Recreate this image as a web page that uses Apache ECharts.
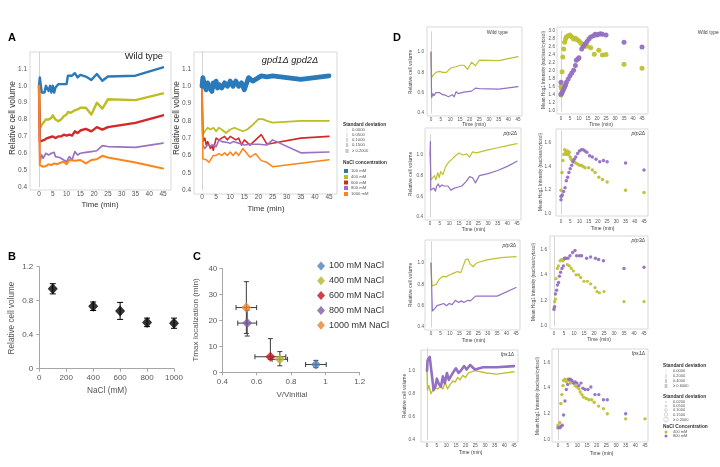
<!DOCTYPE html>
<html><head><meta charset="utf-8">
<script src="https://cdn.jsdelivr.net/npm/echarts@6/dist/echarts.min.js"></script>
<style>html,body{margin:0;padding:0;background:#fff}#c{width:720px;height:467px}</style>
</head><body><div id="c"></div>
<script>
// ---------------- DATA ----------------
// Panel A: relative cell volume vs time (min), wild type
const wt100 = [[0,1.0],[0.3,1.05],[1,0.96],[1.5,0.95],[2,0.96],[2.5,1.0],[3,1.01],[3.5,0.97],[4,1.0],[4.5,0.96],[5,1.0],[5.5,0.96],[6,0.99],[7,1.01],[8,1.01],[9,1.01],[10,1.01],[10.5,1.06],[12,1.06],[13,1.075],[14,1.05],[15,1.065],[17,1.055],[19,1.035],[21,1.07],[23,1.03],[25,1.055],[35,1.06],[45,1.11]];
const wt400 = [[0,1.0],[0.3,0.75],[1,0.76],[1.5,0.78],[2.5,0.8],[3.5,0.8],[4.5,0.81],[5,0.825],[6,0.8],[7,0.79],[8,0.8],[9,0.82],[10,0.83],[10.5,0.845],[11.5,0.84],[13,0.855],[14,0.86],[15,0.87],[17,0.87],[19,0.83],[21,0.9],[23,0.865],[25,0.92],[35,0.915],[45,0.955]];
const wt600 = [[0,1.0],[0.3,0.67],[1,0.66],[2,0.68],[3,0.69],[4,0.695],[5,0.7],[6,0.69],[7,0.7],[8,0.7],[9,0.71],[10,0.705],[11,0.71],[12,0.705],[13,0.73],[14,0.72],[15,0.735],[17,0.745],[19,0.73],[21,0.755],[23,0.74],[25,0.755],[35,0.78],[45,0.825]];
const wt800 = [[0,1.0],[0.3,0.55],[1,0.59],[1.5,0.57],[2.5,0.6],[3.5,0.59],[4.5,0.6],[5.5,0.605],[6,0.58],[7.5,0.575],[9,0.56],[10,0.55],[11,0.58],[12,0.56],[13,0.61],[14,0.59],[15,0.6],[17,0.605],[19,0.61],[21,0.615],[23,0.645],[25,0.64],[35,0.635],[45,0.66]];
const wt1000 = [[0,1.0],[0.3,0.53],[1.5,0.52],[2.5,0.525],[3.5,0.535],[4.5,0.53],[5.5,0.54],[6.5,0.535],[8,0.545],[9,0.55],[10,0.535],[11,0.56],[13,0.555],[15,0.56],[17,0.54],[19,0.56],[21,0.565],[23,0.585],[25,0.575],[35,0.545],[45,0.51]];
// Panel A: gpd1Δ gpd2Δ
const gpd100 = [[0,1.0],[0.3,1.05],[0.7,1.04],[1,1.0],[1.5,0.98],[2,1.02],[2.5,1.0],[3,1.01],[3.5,0.97],[4,1.02],[4.5,1.0],[5,1.03],[5.5,0.99],[6,1.01],[7,0.99],[8,1.02],[9,1.0],[10,1.03],[11,1.0],[12,1.03],[13,1.0],[14,1.02],[15,0.98],[16.5,1.05],[18,1.03],[19,1.04],[21,1.06],[23,1.055],[25,1.06],[35,1.04],[45,1.06]];
const gpd400 = [[0,1.0],[0.3,0.72],[1,0.74],[2,0.76],[3,0.75],[4,0.76],[5,0.74],[6,0.76],[7,0.75],[8.5,0.73],[10,0.75],[11.5,0.76],[13,0.75],[14.5,0.74],[16,0.75],[17.5,0.77],[20,0.81],[21.5,0.81],[23,0.8],[25,0.79],[35,0.8],[45,0.8]];
const gpd600 = [[0,1.0],[0.3,0.68],[1,0.7],[1.5,0.66],[2,0.68],[3,0.64],[3.5,0.66],[4,0.63],[5,0.7],[6,0.69],[7,0.7],[8,0.71],[9,0.69],[10,0.71],[11,0.7],[12,0.69],[13,0.7],[14,0.66],[15,0.69],[17,0.66],[19,0.69],[21,0.72],[23,0.665],[25,0.67],[35,0.7],[45,0.71]];
const gpd800 = [[0,1.0],[0.3,0.66],[1,0.64],[2,0.66],[3,0.655],[4,0.66],[5,0.65],[6,0.69],[7,0.68],[9,0.675],[10,0.67],[11,0.68],[13,0.67],[15,0.66],[17,0.665],[20,0.665],[23,0.66],[25,0.69],[35,0.615],[45,0.62]];
const gpd1000 = [[0,1.0],[0.3,0.58],[1,0.57],[1.5,0.575],[2.5,0.56],[3,0.57],[4,0.6],[5,0.6],[6,0.61],[7,0.6],[8,0.615],[9,0.6],[10,0.62],[11,0.6],[12,0.62],[13,0.6],[14.5,0.64],[15.5,0.62],[17,0.59],[19,0.61],[21,0.57],[23,0.56],[25,0.535],[35,0.555],[45,0.575]];

// Panel B
const bNaCl = [100, 400, 600, 800, 1000];
const bVolume = [0.94, 0.735, 0.68, 0.545, 0.535];
const bVolumeErr = [0.06, 0.05, 0.1, 0.05, 0.06];

// Panel C
const cNames = ['100 mM NaCl', '400 mM NaCl', '600 mM NaCl', '800 mM NaCl', '1000 mM NaCl'];
const cVratio = [0.945, 0.735, 0.68, 0.545, 0.54];
const cVratioErr = [0.06, 0.045, 0.09, 0.055, 0.06];
const cTmax = [3, 5, 6, 19, 25];
const cTmaxLow = [1.8, 2.5, 5, 14, 15];
const cTmaxHigh = [4.6, 8, 13, 24, 35];

// Panel D: volume (400 mM / 800 mM)
const dWt400 = wt400, dWt800 = wt800;
const ptp2V400 = [[0,1.0],[0.5,0.76],[1.2,0.75],[2.3,0.8],[3,0.76],[4,0.83],[4.8,0.78],[5.5,0.84],[6.7,0.81],[7.9,0.88],[9.6,0.93],[11.4,0.96],[13,0.99],[15,1.02],[17,1.0],[19,1.01],[20.5,0.98],[22,1.03],[24,1.02],[30,1.05],[35,1.07],[40,1.09],[45,1.11]];
const ptp2V800 = [[0,1.0],[0.2,1.13],[0.4,0.66],[1.2,0.65],[2,0.68],[2.8,0.65],[3.5,0.7],[4.3,0.72],[5,0.69],[6.2,0.71],[7.3,0.7],[9.3,0.7],[10.8,0.66],[12.7,0.68],[14.6,0.69],[16.5,0.7],[18.5,0.74],[20.5,0.79],[22,0.78],[23.5,0.73],[25.5,0.8],[30,0.82],[35,0.85],[40,0.89],[45,0.94]];
const ptp3V400 = [[0,1.0],[0.5,0.785],[1.5,0.79],[2.8,0.8],[4.2,0.845],[6.2,0.875],[8,0.87],[10,0.89],[12,0.905],[14,0.92],[15.8,0.91],[18.2,1.03],[19.5,1.04],[20.8,0.99],[22.3,0.965],[24,1.0],[29.5,1.03],[37,1.05],[45,1.06]];
const ptp3V800 = [[0,1.0],[0.7,0.55],[1.5,0.545],[2.3,0.58],[3.2,0.6],[4.1,0.59],[5,0.61],[5.9,0.6],[6.7,0.62],[8.2,0.6],[9.6,0.62],[11.2,0.61],[12.9,0.65],[14.7,0.63],[16,0.645],[17.4,0.63],[19.5,0.65],[20.9,0.645],[23.6,0.69],[29.8,0.69],[35,0.69],[45,0.77]];
const fps1V400 = [[0,1.0],[0.3,0.83],[1,0.87],[2,0.8],[3.1,0.83],[4.3,0.85],[5.5,0.84],[6.8,0.86],[8.2,0.84],[9.4,0.9],[10.6,0.84],[12,0.88],[13.4,0.91],[14.6,0.9],[15.8,0.94],[17.1,0.92],[18.5,0.96],[19.9,0.94],[21.4,0.98],[23.1,0.99],[24.8,1.0],[30.8,0.98],[36,0.97],[45,0.99]];
const fps1V800 = [[0,1.0],[0.3,1.09],[1.4,1.12],[2,1.11],[2.6,0.95],[3.4,0.83],[4.3,0.86],[5.1,0.93],[6.2,0.88],[7.2,0.86],[8.2,0.95],[9.2,0.89],[10.3,0.98],[11.3,0.92],[12.3,0.95],[13.7,0.99],[15,1.02],[16.3,0.98],[17.5,1.0],[19.2,1.04],[20.5,1.01],[22.3,1.05],[24.8,1.01],[29,1.03],[36,1.03],[45,1.04]];

// Panel D: Hog1 nuclear/cytosol intensity
const wtH400 = [[0,1.4],[0,1.62],[0.3,1.56],[0.6,1.98],[1,2.35],[1.5,2.55],[2,2.72],[2.5,2.8],[3,2.85],[4,2.88],[5,2.9],[6,2.85],[7,2.8],[8,2.82],[9,2.78],[10,2.75],[11,2.7],[12,2.65],[13,2.62],[14.5,2.62],[16.5,2.58],[18.5,2.42],[21,2.52],[23,2.4],[25,2.41],[35,2.17],[45,2.07]];
const wtH800 = [[0,1.42],[0,1.72],[0.5,1.45],[1,1.5],[1.5,1.55],[2,1.6],[2.5,1.65],[3,1.72],[4,1.8],[5,1.88],[6,1.95],[7,2.02],[8,2.14],[8.5,2.27],[9.3,2.3],[10,2.33],[11.5,2.55],[12.5,2.62],[13.5,2.68],[14.5,2.74],[15.5,2.8],[16.5,2.85],[18,2.88],[19,2.92],[20,2.9],[21,2.92],[22,2.93],[23,2.92],[25,2.9],[35,2.72],[45,2.6]];
const ptp2H400 = [[0,1.15],[0,1.2],[0.5,1.35],[1,1.45],[1.5,1.5],[2,1.54],[2.5,1.52],[3,1.5],[3.5,1.53],[4,1.5],[4.5,1.52],[5,1.48],[5.5,1.46],[6,1.45],[7,1.44],[8,1.43],[9,1.42],[10,1.41],[11,1.41],[12,1.4],[13,1.39],[15,1.39],[17,1.37],[18.5,1.35],[20.5,1.31],[22.5,1.29],[25,1.27],[35,1.2],[45,1.18]];
const ptp2H800 = [[0,1.12],[0.2,1.15],[0.7,1.16],[1.4,1.19],[2.2,1.22],[2.9,1.28],[3.6,1.31],[4.3,1.35],[5,1.38],[5.8,1.41],[6.5,1.44],[7.2,1.46],[8,1.48],[9,1.51],[10,1.53],[11,1.54],[12,1.54],[13,1.53],[14,1.52],[15.5,1.49],[17,1.48],[19,1.46],[21,1.44],[23,1.45],[25,1.44],[35,1.43],[45,1.37]];
const ptp3H400 = [[0,1.14],[0.3,1.19],[0.7,1.21],[1,1.37],[1.7,1.45],[2.2,1.47],[3,1.51],[3.7,1.52],[4.3,1.51],[5,1.52],[5.7,1.53],[6.7,1.48],[7.7,1.47],[8.7,1.45],[9.7,1.43],[11,1.4],[12.3,1.4],[13.3,1.38],[15,1.35],[16.7,1.35],[18.3,1.33],[20.5,1.3],[21.5,1.27],[22.7,1.26],[25,1.27],[35,1.19],[45,1.19]];
const ptp3H800 = [[0,1.13],[0.3,1.15],[0.7,1.25],[1.3,1.28],[1.7,1.32],[2.3,1.34],[2.7,1.39],[3.3,1.42],[4,1.45],[4.7,1.47],[5.2,1.53],[6,1.53],[7,1.53],[8,1.55],[9.3,1.575],[10.5,1.59],[11.3,1.55],[12.7,1.55],[13.8,1.55],[16.3,1.53],[18.3,1.54],[20.7,1.53],[22.3,1.52],[24.7,1.51],[35,1.45],[45,1.46]];
const fps1H400 = [[0,1.11],[0.9,1.13],[1.5,1.28],[2,1.35],[2.6,1.42],[2.9,1.46],[3.6,1.47],[4.3,1.45],[5,1.47],[5.7,1.46],[6.4,1.44],[7.2,1.45],[8.1,1.44],[8.9,1.42],[9.8,1.41],[10.8,1.395],[11.5,1.37],[12.4,1.35],[13.2,1.33],[14.6,1.32],[16,1.31],[17.4,1.31],[18.7,1.29],[21,1.26],[23.5,1.24],[25.5,1.2],[35,1.16],[45,1.16]];
const fps1H800 = [[0,1.09],[1,1.09],[1.5,1.1],[2.2,1.11],[2.9,1.19],[3.6,1.3],[4.3,1.39],[5,1.43],[5.7,1.47],[6.4,1.47],[7.2,1.46],[8.1,1.44],[8.9,1.45],[9.8,1.44],[10.8,1.42],[11.9,1.44],[12.9,1.4],[14,1.39],[15.5,1.39],[17,1.41],[19.1,1.35],[21.1,1.35],[23.5,1.31],[25.5,1.31],[35,1.2]];

// legend labels
const sdLabelsA = ['0.0000', '0.0500', '0.1000', '0.1500', '\u2265 0.2000'];
const naclLabelsA = ['100 mM', '400 mM', '600 mM', '800 mM', '1000 mM'];
const sdLabelsD1 = ['0.0000', '0.2000', '0.4000', '\u2265 0.6000'];
const sdLabelsD2 = ['0.0200', '0.0500', '0.1000', '0.1500', '\u2265 0.2000'];
const naclLabelsD = ['400 mM', '800 mM'];

// ---------------- LAYOUT / STYLE ----------------
const FONT = '"Liberation Sans", Arial, Helvetica, sans-serif';
const colA = ['#2a7ab9', '#bcbd22', '#d62728', '#9a72c4', '#ff8418'];
const colC = ['#4f81bd', '#b5b52e', '#c0141b', '#7d5ca6', '#ea8430'];
const OLIVE = '#bfc032', PURPLE = '#9470c2';

const grids = [], xAxes = [], yAxes = [], series = [], graphics = [];

function txt(x, y, s, o) {
  o = o || {};
  graphics.push({ type: 'text', x: x, y: y, rotation: o.rot || 0, z: 10, silent: true,
    style: { text: s, fontSize: o.fs || 8, fontFamily: FONT, fill: o.color || '#333',
      fontWeight: o.bold ? 'bold' : 'normal', fontStyle: o.italic ? 'italic' : 'normal',
      align: o.align || 'center', verticalAlign: 'middle', textAlign: o.align || 'center', textVerticalAlign: 'middle' } });
}
function rect(x, y, w, h, st) {
  graphics.push({ type: 'rect', z: -1, silent: true, shape: { x: x, y: y, width: w, height: h }, style: st });
}

function addPlot(c) {
  const i = grids.length;
  grids.push({ left: c.x0, top: c.yt, width: c.x1 - c.x0, height: c.yb - c.yt, containLabel: false, outerBoundsMode: 'none' });
  const lab = { fontSize: c.fs, color: c.lc || '#555', fontFamily: FONT };
  xAxes.push({ type: 'value', gridIndex: i, min: c.xmin, max: c.xmax, interval: c.xint,
    axisLine: { show: !!c.xline, lineStyle: { color: '#a6a6a6' } },
    axisTick: { show: !!c.ticks, length: 3, lineStyle: { color: '#a6a6a6' } },
    splitLine: { show: false },
    axisLabel: Object.assign({ margin: c.xm, showMinLabel: true, showMaxLabel: true,
      formatter: c.xfmt || function (v) { return String(v); } }, lab) });
  yAxes.push({ type: 'value', gridIndex: i, min: c.ymin, max: c.ymax, interval: c.yint,
    axisLine: { show: true, lineStyle: { color: c.ylc || '#d4d4d4' } },
    axisTick: { show: !!c.ticks, length: 3, lineStyle: { color: '#a6a6a6' } },
    splitLine: { show: false },
    axisLabel: Object.assign({ margin: c.ym, showMinLabel: true, showMaxLabel: true,
      formatter: c.yfmt || function (v) { return String(v); } }, lab) });
  if (c.box) rect(c.box[0], c.box[1], c.box[2] - c.box[0], c.box[3] - c.box[1], { fill: 'none', stroke: '#d9d9d9', lineWidth: 1 });
  return i;
}
function fmt1(lim) { return function (v) { return v > lim ? '' : v.toFixed(1); }; }

function line(gi, data, color, width, z) {
  series.push({ type: 'line', xAxisIndex: gi, yAxisIndex: gi, data: data, symbol: 'none', showSymbol: false,
    lineStyle: { color: color, width: width, join: 'round', cap: 'round' }, itemStyle: { color: color },
    clip: false, silent: true, z: z || 2 });
}
function dots(gi, data, color, size, z) {
  series.push({ type: 'scatter', xAxisIndex: gi, yAxisIndex: gi, data: data, symbol: 'circle', symbolSize: size,
    itemStyle: { color: color, opacity: 0.95 }, clip: false, silent: true, z: z || 3 });
}
function vErr(cap) {
  return function (params, api) {
    const x = api.value(0), lo = api.value(1), hi = api.value(2);
    const a = api.coord([x, lo]), b = api.coord([x, hi]);
    const st = { stroke: api.visual('color'), lineWidth: 1 };
    return { type: 'group', children: [
      { type: 'line', shape: { x1: a[0], y1: a[1], x2: b[0], y2: b[1] }, style: st },
      { type: 'line', shape: { x1: a[0] - cap, y1: a[1], x2: a[0] + cap, y2: a[1] }, style: st },
      { type: 'line', shape: { x1: b[0] - cap, y1: b[1], x2: b[0] + cap, y2: b[1] }, style: st }] };
  };
}
function hErr(cap) {
  return function (params, api) {
    const y = api.value(0), lo = api.value(1), hi = api.value(2);
    const a = api.coord([lo, y]), b = api.coord([hi, y]);
    const st = { stroke: api.visual('color'), lineWidth: 1 };
    return { type: 'group', children: [
      { type: 'line', shape: { x1: a[0], y1: a[1], x2: b[0], y2: b[1] }, style: st },
      { type: 'line', shape: { x1: a[0], y1: a[1] - cap, x2: a[0], y2: a[1] + cap }, style: st },
      { type: 'line', shape: { x1: b[0], y1: b[1] - cap, x2: b[0], y2: b[1] + cap }, style: st }] };
  };
}

// ---------- Panel A ----------
const gA1 = addPlot({ box: [30, 52, 171, 190], x0: 39, x1: 163, yt: 52.1, yb: 187, xmin: 0, xmax: 45, xint: 5,
  ymin: 0.4, ymax: 1.2, yint: 0.1, fs: 6.5, xm: 4, ym: 12, yfmt: fmt1(1.15) });
const gA2 = addPlot({ box: [194, 52, 337, 194], x0: 202, x1: 329, yt: 51.7, yb: 190, xmin: 0, xmax: 45, xint: 5,
  ymin: 0.4, ymax: 1.2, yint: 0.1, fs: 6.5, xm: 4, ym: 11, yfmt: fmt1(1.15) });
[wt100, wt400, wt600, wt800, wt1000].forEach(function (d, k) { line(gA1, d, colA[k], [2.4, 2.4, 2.4, 1.7, 2.0][k]); });
[gpd100, gpd400, gpd600, gpd800, gpd1000].forEach(function (d, k) { line(gA2, d, colA[k], [4.8, 1.8, 1.6, 1.6, 1.5][k], k === 0 ? 4 : 2); });
txt(8, 38, 'A', { fs: 11, bold: true, color: '#000', align: 'left' });
txt(163, 56, 'Wild type', { fs: 9.3, align: 'right', color: '#222' });
txt(290, 60, 'gpd1\u0394 gpd2\u0394', { fs: 9.3, italic: true, color: '#222' });
txt(13, 118, 'Relative cell volume', { fs: 8.3, rot: Math.PI / 2 });
txt(177, 118, 'Relative cell volume', { fs: 8.3, rot: Math.PI / 2 });
txt(100, 205, 'Time (min)', { fs: 7.8 });
txt(266, 209, 'Time (min)', { fs: 7.8 });
// legend of A
txt(343, 125, 'Standard deviation', { fs: 4.8, bold: true, align: 'left' });
sdLabelsA.forEach(function (s, k) {
  const y = [130, 135, 140, 145, 151][k];
  const w = [0.4, 0.8, 1.5, 2.3, 3.2][k];
  rect(347 - w / 2, y - 2, w, 4, { fill: '#c8c8c8' });
  txt(352, y, s, { fs: 4.2, align: 'left', color: '#555' });
});
txt(343, 163, 'NaCl concentration', { fs: 4.8, bold: true, align: 'left' });
naclLabelsA.forEach(function (s, k) {
  const y = [171, 177, 182.5, 188, 194][k];
  rect(344, y - 2, 4, 4, { fill: colA[k] });
  txt(351, y, s, { fs: 4.2, align: 'left', color: '#555' });
});

// ---------- Panel B ----------
const gB = addPlot({ x0: 39.3, x1: 174, yt: 266.7, yb: 368.7, xmin: 0, xmax: 1000, xint: 200,
  ymin: 0, ymax: 1.2, yint: 0.4, fs: 8, xm: 5, ym: 6, xline: true, ticks: true, ylc: '#a6a6a6', lc: '#595959' });
series.push({ type: 'custom', xAxisIndex: gB, yAxisIndex: gB, z: 3, silent: true, itemStyle: { color: '#000' },
  data: bNaCl.map(function (x, k) { return [x, bVolume[k] - bVolumeErr[k], bVolume[k] + bVolumeErr[k]]; }),
  renderItem: vErr(3) });
series.push({ type: 'scatter', xAxisIndex: gB, yAxisIndex: gB, symbol: 'diamond', symbolSize: [10, 11], z: 4, silent: true,
  itemStyle: { color: '#000' }, data: bNaCl.map(function (x, k) { return [x, bVolume[k]]; }) });
txt(8, 257, 'B', { fs: 11, bold: true, color: '#000', align: 'left' });
txt(12, 318, 'Relative cell volume', { fs: 8.2, rot: Math.PI / 2, color: '#555' });
txt(107, 391, 'NaCl (mM)', { fs: 8.3, color: '#555' });

// ---------- Panel C ----------
const gC = addPlot({ x0: 222.3, x1: 359.7, yt: 268.7, yb: 372.3, xmin: 0.4, xmax: 1.2, xint: 0.2,
  ymin: 0, ymax: 40, yint: 10, fs: 8, xm: 5.5, ym: 5, xline: true, ticks: true, ylc: '#a6a6a6', lc: '#595959',
  xfmt: function (v) { return String(Math.round(v * 10) / 10); } });
cNames.forEach(function (nm, k) {
  series.push({ type: 'custom', xAxisIndex: gC, yAxisIndex: gC, z: 2, silent: true, itemStyle: { color: '#3a3a3a' },
    data: [[cVratio[k], cTmaxLow[k], cTmaxHigh[k]]], renderItem: vErr(2.5) });
  series.push({ type: 'custom', xAxisIndex: gC, yAxisIndex: gC, z: 2, silent: true, itemStyle: { color: '#3a3a3a' },
    data: [[cTmax[k], cVratio[k] - cVratioErr[k], cVratio[k] + cVratioErr[k]]], renderItem: hErr(2.5) });
});
cNames.forEach(function (nm, k) {
  series.push({ type: 'scatter', name: nm, xAxisIndex: gC, yAxisIndex: gC, symbol: 'diamond', symbolSize: 10, z: 5, silent: true,
    itemStyle: { color: colC[k] }, data: [[cVratio[k], cTmax[k]]] });
});
txt(193, 257, 'C', { fs: 11, bold: true, color: '#000', align: 'left' });
txt(196, 320, 'Tmax localization (min)', { fs: 8.1, rot: Math.PI / 2, color: '#555' });
txt(292, 395, 'V/Vinitial', { fs: 8, color: '#555' });

// ---------- Panel D ----------
const dFs = 4.6;
const D = [
  { L: { box: [427, 27, 522, 116], x0: 431, x1: 518, yt: 31.7, yb: 113, ym: 7, xm: 4 },
    R: { box: [557, 27, 648, 114], x0: 561, x1: 642, yt: 31, yb: 111, ym: 6, xm: 5 },
    v: [dWt400, dWt800], h: [wtH400, wtH800], title: 'Wild type', it: false, tL: [508, 33], tR: [719, 33],
    vw: [1.2, 1.2], hs: [5, 5], xt: [[474, 125], [601, 124.5]], yt: [[411, 72], [544, 70]] },
  { L: { box: [425, 128, 521, 220], x0: 430, x1: 517, yt: 134.3, yb: 217, ym: 7, xm: 4 },
    R: { box: [556, 129, 648, 216], x0: 561, x1: 644, yt: 130.8, yb: 214, ym: 10, xm: 5.4 },
    v: [ptp2V400, ptp2V800], h: [ptp2H400, ptp2H800], title: 'ptp2\u0394', it: true, tL: [517, 134], tR: [645, 134],
    vw: [1.2, 1.2], hs: [3.5, 3.5], xt: [[473.5, 230], [602.5, 228.5]], yt: [[411, 174], [541, 172]] },
  { L: { box: [425, 240, 520, 330], x0: 431, x1: 516, yt: 241.7, yb: 327, ym: 7, xm: 4 },
    R: { box: [550, 236, 648, 329], x0: 554, x1: 644, yt: 236.5, yb: 326, ym: 7, xm: 5 },
    v: [ptp3V400, ptp3V800], h: [ptp3H400, ptp3H800], title: 'ptp3\u0394', it: true, tL: [516, 246], tR: [645, 241],
    vw: [1.2, 1.2], hs: [3.2, 3.4], xt: [[473.5, 341], [599, 340]], yt: [[411, 285], [534, 282]] },
  { L: { box: [421, 350, 518, 442], x0: 427, x1: 514, yt: 347.8, yb: 439.3, ym: 12, xm: 4.4 },
    R: { box: [552, 349, 648, 442], x0: 558, x1: 645, yt: 349.9, yb: 439.3, ym: 8, xm: 4.4 },
    v: [fps1V400, fps1V800], h: [fps1H400, fps1H800], title: 'fps1\u0394', it: true, tL: [514, 355], tR: [645, 354],
    vw: [1.4, 2.6], hs: [3.4, 3.4], xt: [[470.5, 452.7], [601.5, 453.3]], yt: [[405, 396], [538, 396]] }
];
D.forEach(function (r, idx) {
  const gl = addPlot(Object.assign({ xmin: 0, xmax: 45, xint: 5, ymin: 0.4, ymax: 1.2, yint: 0.2, fs: dFs, yfmt: fmt1(1.1) }, r.L));
  const gr = addPlot(Object.assign({ xmin: 0, xmax: 45, xint: 5, ymin: 1.0, ymax: idx === 0 ? 3.0 : 1.7, yint: 0.2, fs: dFs,
    yfmt: fmt1(idx === 0 ? 3.05 : 1.65) }, r.R));
  line(gl, r.v[0], OLIVE, r.vw[0]);
  line(gl, r.v[1], PURPLE, r.vw[1]);
  dots(gr, r.h[0], OLIVE, r.hs[0]);
  dots(gr, r.h[1], PURPLE, r.hs[1]);
  txt(r.tL[0], r.tL[1], r.title, { fs: 5.2, italic: r.it, align: 'right', color: '#444' });
  txt(r.tR[0], r.tR[1], r.title, { fs: 5.2, italic: r.it, align: 'right', color: '#444' });
  txt(r.xt[0][0], r.xt[0][1], 'Time (min)', { fs: 5, color: '#444' });
  txt(r.xt[1][0], r.xt[1][1], 'Time (min)', { fs: 5, color: '#444' });
  txt(r.yt[0][0], r.yt[0][1], 'Relative cell volume', { fs: 5, rot: Math.PI / 2, color: '#444' });
  txt(r.yt[1][0], r.yt[1][1], 'Mean Hog1 Intensity (nucleus/cytosol)', { fs: 4.6, rot: Math.PI / 2, color: '#444' });
});
txt(393, 38, 'D', { fs: 11, bold: true, color: '#000', align: 'left' });
// legend of D
txt(663, 366, 'Standard deviation', { fs: 4.8, bold: true, align: 'left' });
sdLabelsD1.forEach(function (s, k) {
  const y = [371, 376, 381, 386][k];
  const w = [0.4, 1, 1.8, 2.8][k];
  rect(666 - w / 2, y - 2, w, 4, { fill: '#c8c8c8' });
  txt(673, y, s, { fs: 4, align: 'left', color: '#555' });
});
txt(663, 397, 'Standard deviation', { fs: 4.8, bold: true, align: 'left' });
sdLabelsD2.forEach(function (s, k) {
  const y = [402, 406, 410, 414.5, 419.5][k];
  const r = [0.6, 1, 1.4, 1.8, 2.3][k];
  graphics.push({ type: 'circle', silent: true, shape: { cx: 666, cy: y, r: r }, style: { fill: 'none', stroke: '#bbbbbb', lineWidth: 0.6 } });
  txt(673, y, s, { fs: 4, align: 'left', color: '#555' });
});
txt(663, 427, 'NaCl Concentration', { fs: 4.8, bold: true, align: 'left' });
naclLabelsD.forEach(function (s, k) {
  const y = [432, 436][k];
  graphics.push({ type: 'circle', silent: true, shape: { cx: 666, cy: y, r: 1.5 }, style: { fill: [OLIVE, PURPLE][k] } });
  txt(673, y, s, { fs: 4, align: 'left', color: '#555' });
});

const option = {
  animation: false,
  backgroundColor: '#ffffff',
  textStyle: { fontFamily: FONT },
  grid: grids, xAxis: xAxes, yAxis: yAxes, series: series,
  legend: { data: cNames, orient: 'vertical', left: 317, top: 261.5, itemWidth: 8, itemHeight: 9, itemGap: 5.8,
    icon: 'diamond', selectedMode: false, padding: 0,
    textStyle: { fontSize: 9, color: '#333', fontFamily: FONT, lineHeight: 9, padding: [0, 0, 0, -1] } },
  graphic: { elements: graphics }
};
const chart = echarts.init(document.getElementById('c'), null, { renderer: 'canvas', width: 720, height: 467 });
chart.setOption(option);
</script></body></html>
